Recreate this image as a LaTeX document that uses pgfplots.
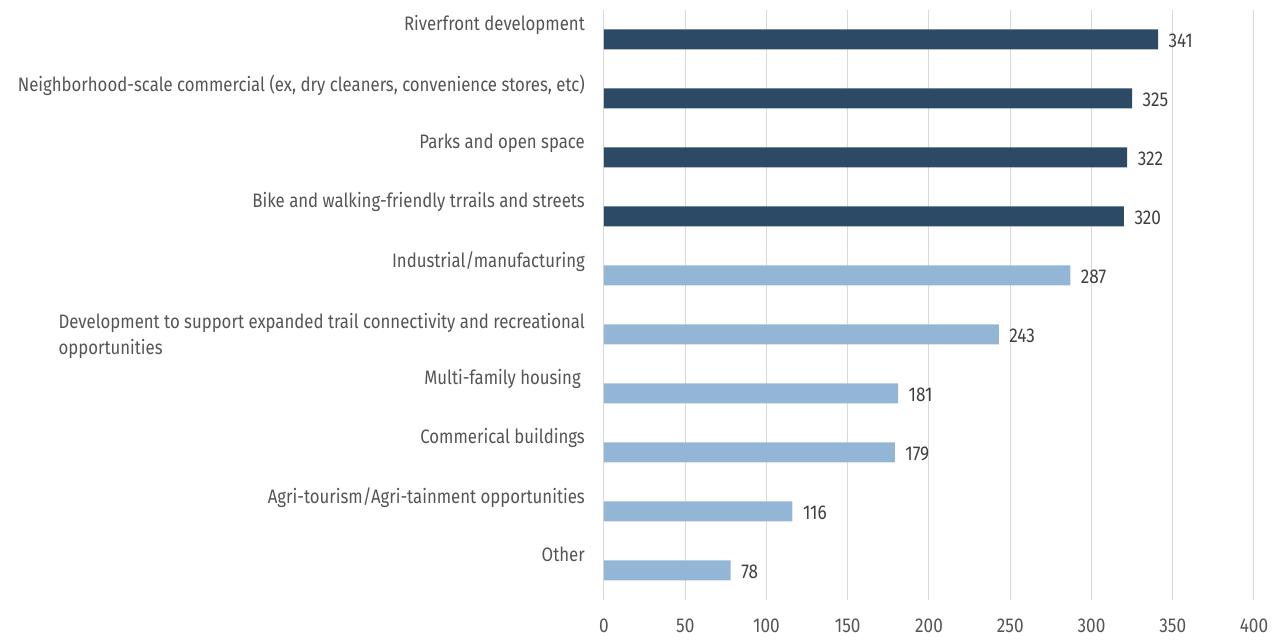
\documentclass[border=0pt]{standalone}
\usepackage{fontspec}
\setmainfont[FakeStretch=0.86]{Fira Sans}
\usepackage{pgfplots}
\pgfplotsset{compat=1.18}
\definecolor{darkbar}{HTML}{2C4A66}
\definecolor{lightbar}{HTML}{94B6D6}
\definecolor{txt}{HTML}{555555}
\definecolor{valtxt}{HTML}{404040}
\definecolor{gridc}{HTML}{D9D9D9}
\begin{document}
\begin{tikzpicture}
\begin{axis}[name=ax, xbar, bar width=20pt, bar shift=0pt,
 width=650pt, height=590pt, scale only axis,
 xmin=0, xmax=400, ymin=-0.5, ymax=9.5,
 xtick={0,50,...,400}, ytick={0,...,9},
 yticklabels={Other, Agri-tourism/Agri-tainment opportunities, Commerical buildings, Multi-family housing\hspace*{4pt}, {\begin{tabular}{@{}l@{}}Development to support expanded trail connectivity and recreational\\opportunities\end{tabular}}, Industrial/manufacturing, Bike and walking-friendly trrails and streets, Parks and open space, {Neighborhood-scale commercial (ex, dry cleaners, convenience stores, etc)}, Riverfront development},
 axis line style={draw=none}, major tick length=0,
 xmajorgrids, grid style={gridc, line width=1pt},
 tick label style={font=\fontsize{19.5}{26}\selectfont, text=txt, inner sep=0pt},
 yticklabel style={anchor=north east, yshift=24pt, xshift=-19pt},
 xticklabel style={anchor=north, yshift=-19pt, font=\fontsize{20}{24}\selectfont},
 /pgf/number format/assume math mode=true,
 nodes near coords,
 nodes near coords style={font=\fontsize{20}{24}\selectfont, text=valtxt, anchor=west, xshift=7pt, yshift=-1pt},
 clip=false,
]
\addplot[fill=lightbar, draw=none] coordinates {(78,0) (116,1) (179,2) (181,3) (243,4) (287,5)};
\addplot[fill=darkbar, draw=none] coordinates {(320,6) (322,7) (325,8) (341,9)};
\end{axis}
\pgfresetboundingbox
\path[use as bounding box] ([shift={(-604pt,-41pt)}]ax.south west) rectangle ([shift={(24pt,10pt)}]ax.north east);
\end{tikzpicture}
\end{document}
